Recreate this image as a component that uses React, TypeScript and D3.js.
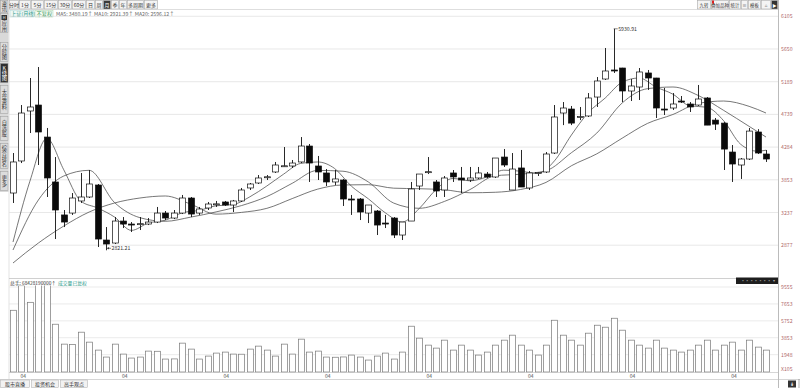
import React from 'react';
import * as d3 from 'd3';

const opens = [3604, 4101, 4786, 4868, 4424, 3812, 3210, 3231, 3454, 3529,
  3755, 2934, 2901, 3143, 3110, 3110, 3110, 3132, 3231, 3176,
  3231, 3510, 3231, 3322, 3397, 3435, 3378, 3454, 3699, 3793,
  3890, 3956, 4035, 4035, 4088, 4299, 4035, 3943, 3812, 3849,
  3491, 3491, 3231, 3265, 3121, 3176, 2989, 3143, 3736, 3956,
  3812, 3661, 3943, 3877, 3849, 3877, 3929, 3890, 4153, 3661,
  4009, 3699, 3943, 3956, 4206, 4758, 4813, 4703, 4717, 4978,
  5227, 5354, 5382, 5061, 5116, 5312, 5241, 4813, 4827, 4923,
  4882, 4868, 4965, 4660, 4618, 4219, 4048, 4127, 4494, 4193];
const highs = [4206, 4868, 5241, 5396, 4550, 4153, 3284, 3604, 3943, 3982,
  3774, 3077, 3187, 3187, 3132, 3187, 3176, 3341, 3265, 3284,
  3567, 3529, 3341, 3435, 3454, 3454, 3473, 3699, 3793, 3916,
  3916, 4088, 4285, 4114, 4424, 4327, 4167, 3995, 3982, 3864,
  3567, 3510, 3378, 3284, 3210, 3187, 3132, 3812, 3929, 4153,
  3849, 3903, 3982, 4022, 4022, 4022, 3956, 4140, 4259, 4206,
  4246, 3969, 3956, 4219, 4868, 4909, 4855, 4841, 5033, 5255,
  5664, 5930.91, 5385, 5227, 5382, 5354, 5243, 5102, 5033, 4992,
  4909, 5144, 4978, 4689, 4632, 4313, 4140, 4550, 4534, 4246];
const lows = [3416, 4074, 4480, 4048, 3529, 2945, 3077, 3210, 3416, 3510,
  2857, 2821.21, 2890, 3066, 3022, 3044, 3099, 3121, 3154, 3165,
  3220, 3187, 3210, 3284, 3341, 3360, 3246, 3435, 3661, 3774,
  3849, 3943, 4022, 4009, 4074, 3812, 3849, 3736, 3755, 3360,
  3210, 3154, 3121, 2989, 3066, 2956, 2934, 3143, 3661, 3929,
  3529, 3529, 3812, 3604, 3812, 3864, 3877, 3877, 4022, 3661,
  3717, 3661, 3903, 3943, 4193, 4590, 4590, 4660, 4703, 4841,
  5213, 5312, 4909, 4923, 4937, 5075, 4689, 4731, 4800, 4896,
  4772, 4855, 4590, 4522, 3982, 3812, 3864, 4114, 4193, 4088];
const closes = [4088, 4758, 4841, 4494, 3877, 3284, 3132, 3510, 3529, 3774,
  2945, 2890, 3143, 3110, 3106, 3114, 3132, 3231, 3176, 3231,
  3510, 3220, 3303, 3397, 3400, 3378, 3454, 3661, 3774, 3877,
  3893, 4048, 4038, 4074, 4299, 4074, 3956, 3812, 3864, 3491,
  3485, 3246, 3378, 3099, 3118, 2989, 3132, 3680, 3929, 3960,
  3642, 3877, 3890, 3849, 3877, 3943, 3890, 4140, 4048, 3995,
  3717, 3943, 3948, 4193, 4703, 4827, 4618, 4708, 4965, 5199,
  5340, 5350, 5061, 5130, 5326, 5241, 4827, 4808, 4882, 4920,
  4841, 4951, 4590, 4604, 4258, 4061, 4127, 4507, 4206, 4127];
const volumes = [6938, 9700, 7833, 9900, 9800, 5371, 3133, 3090, 4476, 3357,
  2462, 1679, 3133, 2014, 1567, 1679, 2350, 2330, 1455, 1470,
  3245, 2574, 1455, 1790, 2126, 2238, 2014, 2000, 2574, 2909,
  2462, 1790, 3133, 2014, 3693, 2238, 2350, 1679, 1660, 1690,
  1902, 1679, 1343, 1790, 2126, 1455, 2238, 5147, 3805, 3021,
  2686, 3581, 2462, 3021, 2462, 1902, 2238, 3021, 3581, 4140,
  3021, 2462, 1902, 3021, 5819, 4140, 3581, 3021, 4364, 5259,
  5036, 6043, 4700, 3581, 3021, 2686, 3581, 2686, 2462, 2238,
  2462, 3021, 3581, 2462, 3021, 3357, 2462, 3581, 2798, 2462];

const ma5Index = [0, 2, 4, 6, 8, 10, 12, 14, 16, 18, 20, 22, 24, 26, 28, 30, 32, 34, 36, 38, 40, 42, 44, 46, 48, 50, 52, 54, 56, 58, 60, 62, 64, 66, 68, 70, 72, 74, 76, 78, 80, 82, 84, 86, 88, 89];
const ma5Values = [2912, 3827, 4405, 3985, 3454, 3322, 3187, 3040, 3121, 3152, 3234, 3277, 3363, 3386, 3533, 3736, 3929, 4069, 4088, 4003, 3732, 3495, 3234, 3132, 3310, 3668, 3871, 3834, 3890, 3980, 3966, 3937, 4103, 4452, 4764, 4965, 5182, 5241, 5116, 5017, 4857, 4838, 4650, 4324, 4230, 4243];
const ma10Index = [0, 3, 6, 9, 12, 15, 18, 21, 24, 27, 30, 33, 36, 39, 42, 45, 48, 51, 54, 57, 60, 63, 66, 69, 72, 75, 78, 81, 84, 87, 89];
const ma10Values = [2824, 3473, 3903, 3978, 3425, 3180, 3140, 3186, 3248, 3367, 3537, 3787, 3977, 3966, 3812, 3414, 3316, 3446, 3668, 3906, 3927, 3973, 4210, 4479, 4896, 5093, 5116, 4999, 4794, 4573, 4424];
const ma20Index = [0, 3, 6, 9, 12, 15, 18, 21, 24, 27, 30, 33, 36, 39, 42, 45, 48, 51, 54, 57, 60, 63, 66, 69, 72, 75, 78, 81, 84, 87, 89];
const ma20Values = [2681, 2901, 3088, 3246, 3416, 3510, 3548, 3395, 3219, 3239, 3315, 3499, 3677, 3756, 3761, 3695, 3685, 3665, 3609, 3618, 3671, 3804, 4038, 4195, 4408, 4614, 4738, 4891, 4923, 4850, 4758];

const priceTicks = [6105, 5650, 5189, 4739, 4284, 3853, 3237, 2877];
const volTicks = [9555, 7653, 5752, 3853, 1948];
const volUnit = 'X105';
const dateLabelIndex = [1, 13, 25, 37, 49, 61, 73, 85];
const dateLabels = ['04', '04', '04', '04', '04', '04', '04', '04'];
const periodTabs = ['分时', '1分', '5分', '15分', '30分', '60分', '日', '周', '月', '季', '年', '多周期', '更多'];
const selectedPeriod = '月';
const toolButtons = ['九转', '叠加品种', '统计', '≡', '模板', '⌂', '▶'];
const sideTabs = ['资讯', '应用', '分时图', 'K线图', '大盘资料', '自选股', '综合排名', '更多'];
const selectedSide = 'K线图';
const bottomTabs = ['股市直播', '投资机会', '高手观点'];
const maNames = ['MA5', 'MA10', 'MA20'];
const maLegendValues = [3480.19, 2921.39, 2596.12];
const titleText = '上证(月线)';
const adjustText = '不复权';
const volTitle = '总手';
const volTotal = '68428190000';
const volNote = '成交量已复权';

const FONT = '"Noto Sans CJK SC", "Noto Sans", sans-serif';

export default function App() {
  const N = closes.length;
  const x = d3.scaleLinear().domain([0, N - 1]).range([13, 766]);
  const y = d3.scaleLinear().domain(priceTicks).range(priceTicks.map((_, i) => 16.3 + i * 32.7));
  const vy = d3.scaleLinear().domain([0, volTicks[0]]).range([372, 287]);
  const bodyW = 6;

  const line = d3.line<[number, number]>().x(d => x(d[0])).y(d => y(d[1])).curve(d3.curveMonotoneX);
  const maSeries = [
    ma5Index.map((idx, i) => [idx, ma5Values[i]] as [number, number]),
    ma10Index.map((idx, i) => [idx, ma10Values[i]] as [number, number]),
    ma20Index.map((idx, i) => [idx, ma20Values[i]] as [number, number]),
  ];

  const maxI = d3.maxIndex(highs);
  const minI = d3.minIndex(lows);

  const tabBounds = [9, 19, 31, 44, 58, 72, 86, 95, 103, 111, 119, 127, 144, 158];
  const toolBounds = [697, 711, 729, 741, 748, 761, 771, 778];
  const sideBounds = [[0, 13], [13, 33], [42, 62], [63, 83], [85, 114], [116, 141], [143, 169], [171, 191]];
  const bottomBounds = [[0, 30], [31, 59], [60, 88]];

  return (
    <div style={{ position: 'absolute', left: 0, top: 0 }}>
      <svg width={800} height={388} style={{ display: 'block', background: '#fff' }} fontFamily={FONT}>
        <rect x={0} y={0} width={800} height={388} fill="#fff" />
        <defs>
          <clipPath id="priceClip"><rect x={9} y={17} width={769} height={260} /></clipPath>
          <clipPath id="volClip"><rect x={9} y={285.5} width={769} height={90} /></clipPath>
        </defs>
        {/* top toolbar */}
        {periodTabs.map((t, i) => {
          const x0 = tabBounds[i], x1 = tabBounds[i + 1];
          const sel = t === selectedPeriod;
          return (
            <g key={'pt' + i}>
              <rect x={x0 + 0.5} y={0.5} width={x1 - x0 - 1} height={8.5} fill={sel ? '#3a3a3a' : '#f4f4f4'} stroke="#a8a8a8" strokeWidth={0.6} />
              <text x={(x0 + x1) / 2} y={6.9} fontSize={5} textAnchor="middle" fill={sel ? '#fff' : '#333'}>{t}</text>
            </g>
          );
        })}
        {toolButtons.map((t, i) => {
          const x0 = toolBounds[i], x1 = toolBounds[i + 1];
          const dark = i === toolButtons.length - 1;
          return (
            <g key={'tb' + i}>
              <rect x={x0 + 0.5} y={0.5} width={x1 - x0 - 1} height={8.5} fill={dark ? '#333' : '#f4f4f4'} stroke="#a8a8a8" strokeWidth={0.6} />
              <text x={(x0 + x1) / 2} y={6.9} fontSize={4.4} textAnchor="middle" fill={dark ? '#fff' : '#333'}>{t}</text>
            </g>
          );
        })}
        <rect x={712} y={0.5} width={2} height={3} fill="#d22" />
        <line x1={9} x2={778} y1={9.5} y2={9.5} stroke="#c8c8c8" strokeWidth={0.6} />

        {/* side bar */}
        <rect x={0} y={0} width={8.5} height={192} fill="#d9d9d9" />
        {sideTabs.map((t, i) => {
          const [y0, y1] = sideBounds[i];
          const sel = t === selectedSide;
          const hasIcon = i === 1;
          const cy = (y0 + y1) / 2 + (hasIcon ? 3 : 0);
          return (
            <g key={'st' + i}>
              <rect x={0.5} y={y0 + 0.5} width={7.5} height={y1 - y0 - 1} fill={sel ? '#2f2f2f' : '#dcdcdc'} stroke="#9a9a9a" strokeWidth={0.5} />
              {hasIcon && <rect x={1.5} y={y0 + 2} width={5.5} height={5} fill="#333" />}
              {hasIcon && <text x={4.25} y={y0 + 6.2} fontSize={4} textAnchor="middle" fill="#fff">H</text>}
              <text x={4.3} y={cy} fontSize={5.2} textAnchor="middle" fill={sel ? '#fff' : '#333'}
                style={{ writingMode: 'vertical-rl', textOrientation: 'upright' } as any}>{t}</text>
            </g>
          );
        })}
        <line x1={9} x2={9} y1={10} y2={379} stroke="#d0d0d0" strokeWidth={0.6} />

        {/* legend row */}
        <rect x={10} y={10.5} width={24} height={6.5} fill="#eef7f5" stroke="#9cc" strokeWidth={0.4} />
        <text x={11} y={15.6} fontSize={5.2} fill="#2a9a8a">{titleText}</text>
        <rect x={35} y={10.5} width={18} height={6.5} fill="#f6fbf6" stroke="#9c9" strokeWidth={0.4} />
        <text x={36.5} y={15.6} fontSize={5.2} fill="#3a9a5a">{adjustText}</text>
        <text x={56} y={15.6} fontSize={5.2} fill="#666">
          {maNames.map((n, i) => `${n}: ${maLegendValues[i].toFixed(2)}↑ `).join('')}
        </text>

        {/* price grid */}
        {priceTicks.map((t, i) => (
          <g key={'pg' + i}>
            <line x1={9} x2={778} y1={y(t)} y2={y(t)} stroke="#dedede" strokeWidth={0.7} />
            <text x={781} y={y(t) + 2} fontSize={5.2} fill="#b06a6a">{t}</text>
          </g>
        ))}
        <line x1={778.5} x2={778.5} y1={0} y2={388} stroke="#aaa" strokeWidth={0.8} />

        {/* MA lines */}
        <g clipPath="url(#priceClip)">
          {maSeries.map((s, i) => (
            <path key={'ma' + i} d={line(s) || ''} fill="none" stroke="#4a4a4a" strokeWidth={0.75} />
          ))}
        </g>

        {/* candles */}
        {closes.map((c, i) => {
          const o = opens[i];
          const up = c >= o;
          const cx = Math.round(x(i)) + 0.5;
          const top = y(Math.max(o, c));
          const bot = y(Math.min(o, c));
          const h = Math.max(1, bot - top);
          return (
            <g key={'c' + i}>
              <line x1={cx} x2={cx} y1={y(highs[i])} y2={y(lows[i])} stroke="#111" strokeWidth={0.9} />
              <rect x={cx - bodyW / 2} y={top} width={bodyW} height={h} fill={up ? '#fff' : '#0a0a0a'} stroke="#111" strokeWidth={0.7} />
            </g>
          );
        })}

        {/* max / min annotations */}
        <line x1={x(maxI)} x2={x(maxI) + 4} y1={y(highs[maxI])} y2={y(highs[maxI])} stroke="#333" strokeWidth={0.6} />
        <text x={x(maxI) + 4.5} y={y(highs[maxI]) + 2} fontSize={5.2} fill="#333">{highs[maxI].toFixed(2)}</text>
        <line x1={x(minI) + 1} x2={x(minI) + 5} y1={y(lows[minI]) - 2} y2={y(lows[minI]) - 2} stroke="#333" strokeWidth={0.6} />
        <path d={`M${x(minI) + 1},${y(lows[minI]) - 2} l2,-1.3 l0,2.6 z`} fill="#333" />
        <text x={x(minI) + 5.5} y={y(lows[minI])} fontSize={5.2} fill="#333">{lows[minI].toFixed(2)}</text>

        {/* volume header */}
        <line x1={9} x2={778} y1={278.5} y2={278.5} stroke="#bbb" strokeWidth={0.7} />
        <text x={10} y={284.6} fontSize={4.8} fill="#333">{`${volTitle}: ${volTotal}↑`}</text>
        <text x={58} y={284.6} fontSize={4.8} fill="#2a9a8a">{volNote}</text>
        <rect x={736} y={277.5} width={42} height={6.5} fill="#1e1e1e" />
        <text x={756} y={282.4} fontSize={4.4} fill="#888" textAnchor="middle">▪▪▪▪▪▪▪</text>
        <text x={774} y={282.4} fontSize={4.4} fill="#aaa" textAnchor="middle">▾</text>

        {/* volume grid */}
        {volTicks.map((t, i) => (
          <g key={'vg' + i}>
            <line x1={9} x2={778} y1={vy(t)} y2={vy(t)} stroke="#e2e2e2" strokeWidth={0.7} />
            <text x={781} y={vy(t) + 2} fontSize={5.2} fill="#b06a6a">{t}</text>
          </g>
        ))}
        <text x={781} y={370.5} fontSize={5.2} fill="#b06a6a">{volUnit}</text>

        <g clipPath="url(#volClip)">
          {volumes.map((v, i) => {
            const cx = Math.round(x(i)) + 0.5;
            return (
              <rect key={'v' + i} x={cx - bodyW / 2} y={vy(v)} width={bodyW} height={vy(0) - vy(v)} fill="#fff" stroke="#777" strokeWidth={0.7} />
            );
          })}
        </g>
        <line x1={9} x2={778} y1={372.5} y2={372.5} stroke="#bbb" strokeWidth={0.6} />

        {/* date labels */}
        {dateLabelIndex.map((idx, i) => (
          <text key={'dl' + i} x={x(idx) - 1} y={378} fontSize={5} fill="#555">{dateLabels[i]}</text>
        ))}
        <line x1={0} x2={800} y1={379.5} y2={379.5} stroke="#bbb" strokeWidth={0.6} />

        {/* bottom tabs */}
        {bottomTabs.map((t, i) => {
          const [x0, x1] = bottomBounds[i];
          return (
            <g key={'bt' + i}>
              <rect x={x0 + 0.5} y={380} width={x1 - x0 - 1} height={7.5} fill="#f2f2f2" stroke="#aaa" strokeWidth={0.5} />
              <text x={(x0 + x1) / 2} y={385.8} fontSize={5} textAnchor="middle" fill="#333">{t}</text>
            </g>
          );
        })}
        <rect x={788} y={380.5} width={8} height={7} fill="#333" />
        <text x={792} y={386} fontSize={5} textAnchor="middle" fill="#fff">⇟</text>
        <line x1={799} x2={799} y1={379} y2={388} stroke="#777" strokeWidth={0.6} />
      </svg>
    </div>
  );
}
